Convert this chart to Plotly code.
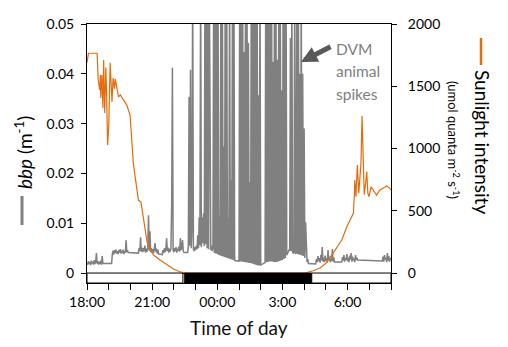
import plotly.graph_objects as go


def hours_since_18(clock):
    """Convert an 'HH:MM' clock reading to hours elapsed since 18:00."""
    hh, mm = map(int, clock.split(":"))
    return ((hh * 60 + mm - 18 * 60) % 1440) / 60


# ---------------------------------------------------------------------------
# Data
# ---------------------------------------------------------------------------
# Optical backscatter (bbp), 2-minute samples from 18:00, in units of 1e-4 m^-1.
# None marks gaps in the record (joined by a straight line).
bbp_step_min = 2
bbp_scale = 1e-4
bbp_raw = [
    # 18:00
    20, 17, 24, 18, 22, 16, 25, 19, 23, 17, 26, 18, 22, 40, 19,
    # 18:30
    24, 17, 23, 18, 25, 17, 34, 19, None, None, None, None, None, None, None,
    # 19:00
    None, None, None, None, 19, 38, 45, 37, 46, 40, 47, 39, 44, 38, 46,
    # 19:30
    41, 48, 39, 45, 40, 47, 38, 44, 41, 66, 42, 46, 41, None, None,
    # 20:00
    None, None, None, None, None, None, None, None, None, None, None, 40, 50, 44, 72,
    # 20:30
    43, 51, 42, 50, 44, 55, 41, 49, 43, 52, 116, 45, 84, 42, 50,
    # 21:00
    41, 48, 40, 52, 60, 43, 49, 39, 47, 38, None, None, None, None, 37,
    # 21:30
    46, 40, 50, 42, 48, 70, 44, 51, 41, 49, 43, 50, 140, 412, 45,
    # 22:00
    42, 50, 44, 52, 41, 49, 45, 53, 43, 70, 46, 51, 66, 44, 41,
    # 22:30
    None, None, None, None, 41, 52, 354, 55, 408, 50, 91, 600, 48, 44, 52,
    # 23:00
    46, 55, 48, 76, 50, 112, 56, 600, 52, 112, 60, 120, 54, 600, 58,
    # 23:30
    600, 50, 600, 48, 600, 52, 46, 55, 44, 50, 600, 40, 600, 39, 600,
    # 00:00
    38, 600, 36, 113, 35, 600, 34, 600, 33, 254, 32, 600, 31, 600, 30,
    # 00:30
    110, 29, 600, 28, 187, 27, 600, 26, 600, 25, None, None, None, None, None,
    # 01:00
    24, 600, 23, 600, 23, 600, 22, 444, 22, 600, 21, 600, 21, 462, 20,
    # 01:30
    183, 20, 600, 19, 600, 18, 600, 17, 600, 16, 600, 15, 357, 15, 600,
    # 02:00
    16, None, None, None, None, None, 21, 600, 22, 600, 22, 600, 23, 600, 23,
    # 02:30
    600, 23, 424, 22, 600, 22, 600, 22, 428, 23, 600, 24, 600, 25, 367,
    # 03:00
    26, 600, 28, 600, 30, 600, 36, 40, 44, 46, 45, 472, 44, 600, 42,
    # 03:30
    40, 41, 600, 40, 39, 600, 38, 600, 37, 400, 36, 600, 35, 400, 34,
    # 04:00
    290, 30, 102, 26, 22, 28, 19, None, None, None, None, None, None, None, None,
    # 04:30
    None, 18, 28, 22, 34, 24, 30, 21, 36, 25, 52, 23, 31, 22, 35,
    # 05:00
    24, 30, 21, 46, 26, 33, 22, 29, 24, 48, 23, 31, 22, None, None,
    # 05:30
    None, None, None, None, None, None, None, 22, 32, 25, 36, 23, 30, 26, 38,
    # 06:00
    24, 31, 22, 35, 27, 40, 23, 33, 25, 29, 22, 36, 26, 31, 26,
    # 06:30
    None, None, None, None, None, None, None, None, None, None, None, None, None, None, None,
    # 07:00
    None, None, None, None, None, None, None, None, None, None, None, None, None, None, None,
    # 07:30
    None, None, None, 24, 33, 23, 36, 27, 31, 22, 40, 25, 34, 23, 30,
    # 08:00
    27,
]

# Photosynthetically available sunlight (umol quanta m^-2 s^-1)
sun_time = [
    "18:00", "18:04", "18:28", "18:31", "18:35", "18:37", "18:38", "18:41",
    "18:44", "18:46", "18:49", "18:52", "18:54", "18:57", "19:00", "19:02",
    "19:04", "19:07", "19:09", "19:12", "19:16", "19:18", "19:23", "19:27",
    "19:32", "19:41", "19:50", "19:59", "20:04", "20:08", "20:13", "20:18",
    "20:22", "20:29", "20:36", "20:41", "20:46", "20:55", "21:04", "21:22",
    "21:41", "21:59", "22:17", "22:36",
    "04:02", "04:25", "04:44", "05:02", "05:20", "05:34", "05:44", "05:58",
    "06:07", "06:16", "06:19", "06:20", "06:23", "06:27", "06:31", "06:34",
    "06:37", "06:40", "06:43", "06:46", "06:50", "06:53", "06:56", "06:59",
    "07:05", "07:11", "07:20", "07:29", "07:38", "07:48", "07:57", "08:00",
]
sun_value = [
    1689, 1765, 1765, 1550, 1470, 1590, 1405, 1590,
    1325, 1711, 1285, 1650, 1450, 1028, 1173, 1500,
    1689, 1500, 1373, 1566, 1480, 1560, 1494, 1414,
    1430, 1390, 1349, 1269, 1015, 883, 774, 667,
    586, 570, 426, 321, 251, 185, 145, 104,
    64, 32, 10, 0,
    0, 18, 40, 83, 160, 225, 265, 372,
    426, 480, 642, 747, 613, 867, 642, 747,
    881, 1261, 881, 630, 723, 814, 642, 613,
    693, 666, 626, 666, 680, 699, 680, 666,
]

# Light / dark periods shown in the strip under the axis
day_end = "22:25"
night_start = "22:30"
night_end = "04:21"
record_start = "18:00"
record_hours = 14

# Axis ticks
time_ticks = [0, 3, 6, 9, 12]
time_labels = ["18:00", "21:00", "00:00", "3:00", "6:00"]
bbp_ticks = [0, 0.01, 0.02, 0.03, 0.04, 0.05]
bbp_labels = ["0", "0.01", "0.02", "0.03", "0.04", "0.05"]
sun_ticks = [0, 500, 1000, 1500, 2000]
sun_labels = ["0", "500", "1000", "1500", "2000"]

# ---------------------------------------------------------------------------
# Styling
# ---------------------------------------------------------------------------
GREY = "#808080"
ORANGE = "#E46C0A"
FONT = "Lato"
W, H = 508, 347
ML, MR, MT, MB = 87, 117, 24, 64
PW, PH = W - ML - MR, H - MT - MB


def px_x(px):
    return (px - ML) / PW


def px_y(py):
    return (H - MB - py) / PH


bbp_x = [i * bbp_step_min / 60 for i in range(len(bbp_raw))]
bbp_y = [None if v is None else v * bbp_scale for v in bbp_raw]
sun_x = [hours_since_18(t) for t in sun_time]

fig = go.Figure()
fig.add_trace(go.Scatter(
    x=bbp_x, y=bbp_y, mode="lines", connectgaps=True,
    line=dict(color=GREY, width=1.5), yaxis="y", hoverinfo="skip",
))
fig.add_trace(go.Scatter(
    x=sun_x, y=sun_value, mode="lines",
    line=dict(color=ORANGE, width=1.2), yaxis="y2", hoverinfo="skip",
))

# day / night strip beneath the zero line
strip = [
    (hours_since_18(record_start), hours_since_18(day_end), "white"),
    (hours_since_18(night_start), hours_since_18(night_end), "black"),
    (hours_since_18(night_end), record_hours, "white"),
]
shapes = []
for x0, x1, fill in strip:
    shapes.append(dict(type="rect", xref="x", yref="y", x0=x0, x1=x1,
                       y0=-0.002, y1=0, fillcolor=fill,
                       line=dict(color="black", width=1), layer="above"))

# line keys next to the axis titles
shapes.append(dict(type="line", xref="paper", yref="paper",
                   x0=px_x(22), x1=px_x(22), y0=px_y(225), y1=px_y(196),
                   line=dict(color=GREY, width=3)))
shapes.append(dict(type="line", xref="paper", yref="paper",
                   x0=px_x(481), x1=px_x(481), y0=px_y(65), y1=px_y(38),
                   line=dict(color=ORANGE, width=2.5)))

annotations = [
    dict(text="<i>bbp</i> (m<sup>-1</sup>)", xref="paper", yref="paper",
         x=px_x(23), y=px_y(153), textangle=-90, showarrow=False,
         font=dict(family=FONT, size=19, color="black"),
         xanchor="center", yanchor="middle"),
    dict(text="Sunlight intensity", xref="paper", yref="paper",
         x=px_x(483), y=px_y(142), textangle=90, showarrow=False,
         font=dict(family=FONT, size=19, color="black"),
         xanchor="center", yanchor="middle"),
    dict(text="(umol quanta m<sup>-2</sup> s<sup>-1</sup>)", xref="paper",
         yref="paper", x=px_x(454), y=px_y(140), textangle=90,
         showarrow=False, font=dict(family=FONT, size=13, color="black"),
         xanchor="center", yanchor="middle"),
    dict(text="Time of day", xref="paper", yref="paper",
         x=0.5, y=px_y(327), showarrow=False,
         font=dict(family=FONT, size=19, color="#111111"),
         xanchor="center", yanchor="middle"),
    dict(text="", xref="paper", yref="paper", x=px_x(301), y=px_y(62),
         ax=31, ay=-16, showarrow=True, arrowhead=2, arrowsize=0.65,
         arrowwidth=5, arrowcolor="#595959"),
]
for word, py in (("DVM", 48.5), ("animal", 71), ("spikes", 93.5)):
    annotations.append(dict(
        text=word, xref="paper", yref="paper", x=px_x(334), y=px_y(py),
        showarrow=False, xanchor="left", yanchor="middle",
        font=dict(family=FONT, size=15.5, color="#7f7f7f")))

axis_common = dict(showgrid=False, showline=True, linecolor="black",
                   linewidth=1, ticks="outside", tickcolor="black",
                   tickwidth=1, tickfont=dict(family=FONT, size=14,
                                              color="black"))

fig.update_layout(
    width=W, height=H,
    margin=dict(l=ML, r=MR, t=MT, b=MB, pad=0),
    plot_bgcolor="white", paper_bgcolor="white",
    showlegend=False,
    xaxis=dict(range=[0, record_hours], tickvals=time_ticks,
               ticktext=time_labels, ticklen=6, mirror=True,
               minor=dict(dtick=1, tick0=0, ticks="outside", ticklen=6,
                          tickcolor="black", tickwidth=1),
               zeroline=False, **axis_common),
    yaxis=dict(range=[-0.002, 0.05], tickvals=bbp_ticks,
               ticktext=bbp_labels, ticklen=5, ticklabelstandoff=4,
               zeroline=True, zerolinecolor="black", zerolinewidth=1,
               **axis_common),
    yaxis2=dict(range=[-80, 2000], tickvals=sun_ticks, ticktext=sun_labels,
                overlaying="y", side="right", ticklen=5,
                ticklabelstandoff=8, zeroline=False, **axis_common),
    shapes=shapes,
    annotations=annotations,
)

fig.write_html("out.html")
